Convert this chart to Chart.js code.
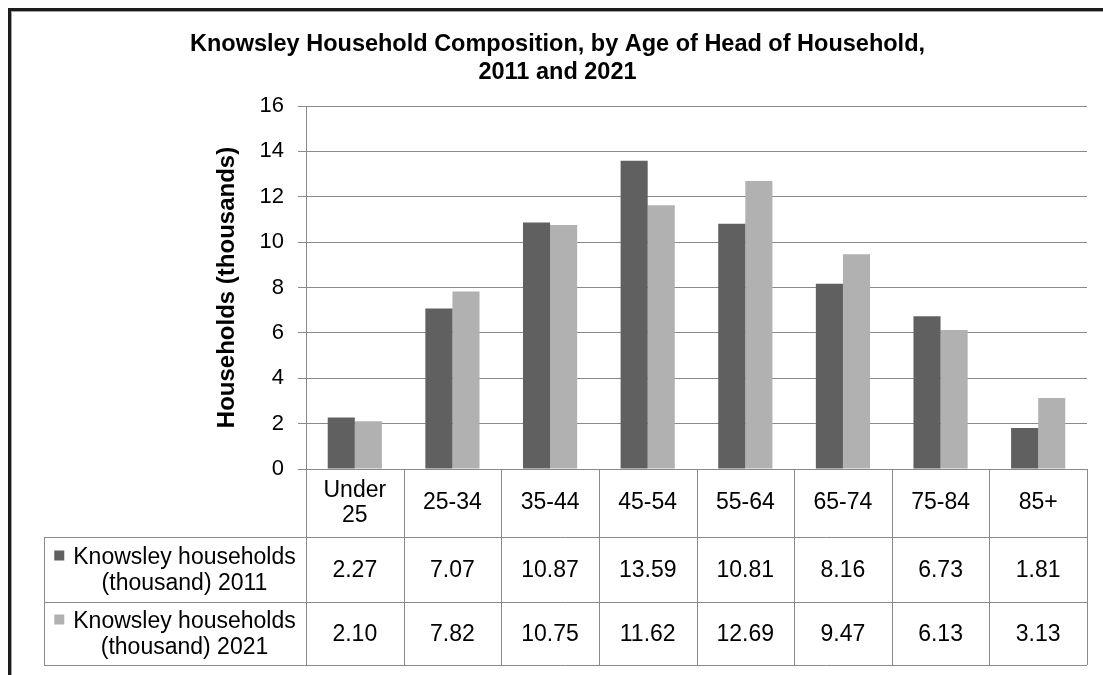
<!DOCTYPE html>
<html lang="en">
  <head>
    <meta charset="UTF-8" />
    <title>Knowsley Household Composition</title>
    <script src="https://cdn.jsdelivr.net/npm/chart.js"></script>
    <style>
      body {
        margin: 0;
        background: #ffffff;
        font-family: "Liberation Sans", Arial, sans-serif;
      }
      .wrap {
        position: relative;
        width: 1103px;
        height: 675px;
        overflow: hidden;
      }
      .frame {
        position: absolute;
        left: 8px;
        top: 8px;
        width: 1200px;
        height: 664px;
        border-left: 3px solid #1c1c1c;
        border-top: 3px solid #1c1c1c;
        box-shadow: inset 1px 1px 0 #a0a0a0;
        pointer-events: none;
      }
      canvas {
        position: absolute;
        left: 0;
        top: 0;
      }
    </style>
  </head>
  <body>
    <div class="wrap">
      <canvas id="chart" width="1103" height="675"></canvas>
      <div class="frame"></div>
    </div>

    <script>
      // data
      const categories = ["Under 25", "25-34", "35-44", "45-54", "55-64", "65-74", "75-84", "85+"];
      const households2011 = [2.27, 7.07, 10.87, 13.59, 10.81, 8.16, 6.73, 1.81];
      const households2021 = [2.10, 7.82, 10.75, 11.62, 12.69, 9.47, 6.13, 3.13];
      const seriesNames = [
        "Knowsley households (thousand) 2011",
        "Knowsley households (thousand) 2021",
      ];
      const yTicks = [0, 2, 4, 6, 8, 10, 12, 14, 16];

      const colors = ["#606060", "#b1b1b1"];
      const lineColor = "#8a8a8a";
      const font = '"Liberation Sans", Arial, sans-serif';

      // draws the data table below the plot, lined up with the x scale
      const dataTable = {
        id: "dataTable",
        afterDraw(chart) {
          const ctx = chart.ctx;
          const x = chart.scales.x;
          const area = chart.chartArea;
          const colW = x.width / categories.length;
          const rows = [area.bottom, area.bottom + 68, area.bottom + 133, area.bottom + 196];
          const legendLeft = 44;
          const tableRight = area.right;

          ctx.save();
          ctx.strokeStyle = lineColor;
          ctx.lineWidth = 1;
          ctx.beginPath();
          // horizontal lines
          ctx.moveTo(area.left, rows[0] + 0.5);
          ctx.lineTo(tableRight, rows[0] + 0.5);
          for (let r = 1; r < rows.length; r++) {
            ctx.moveTo(legendLeft, rows[r] + 0.5);
            ctx.lineTo(tableRight, rows[r] + 0.5);
          }
          // vertical lines
          ctx.moveTo(legendLeft + 0.5, rows[1]);
          ctx.lineTo(legendLeft + 0.5, rows[3]);
          for (let i = 0; i <= categories.length; i++) {
            const lx = Math.round(area.left + i * colW) + 0.5;
            ctx.moveTo(lx, rows[0]);
            ctx.lineTo(lx, rows[3]);
          }
          ctx.stroke();

          ctx.fillStyle = "#000";
          ctx.font = "23px " + font;
          ctx.textAlign = "center";
          ctx.textBaseline = "middle";

          // category row
          const catMid = (rows[0] + rows[1]) / 2;
          categories.forEach((c, i) => {
            const cx = x.getPixelForValue(i);
            const words = c.length > 6 && c.indexOf(" ") > 0 ? c.split(" ") : [c];
            if (words.length === 2) {
              ctx.fillText(words[0], cx, catMid - 12);
              ctx.fillText(words[1], cx, catMid + 13);
            } else {
              ctx.fillText(c, cx, catMid);
            }
          });

          // series rows
          const series = [households2011, households2021];
          series.forEach((vals, s) => {
            const mid = (rows[s + 1] + rows[s + 2]) / 2;
            vals.forEach((v, i) => {
              ctx.fillText(v.toFixed(2), x.getPixelForValue(i), mid + 1);
            });

            // legend cell: key square + two-line name
            const cut = seriesNames[s].indexOf(" (");
            const line1 = seriesNames[s].slice(0, cut);
            const line2 = seriesNames[s].slice(cut + 1);
            const w1 = ctx.measureText(line1).width;
            const keySize = 10, gap = 9;
            const cellMid = (legendLeft + area.left) / 2;
            const start = cellMid - (keySize + gap + w1) / 2;
            ctx.fillStyle = colors[s];
            ctx.fillRect(start, mid - 13 - 6, keySize, keySize);
            ctx.fillStyle = "#000";
            ctx.textAlign = "left";
            ctx.fillText(line1, start + keySize + gap, mid - 12);
            ctx.textAlign = "center";
            ctx.fillText(line2, start + keySize + gap + w1 / 2, mid + 14);
          });
          ctx.restore();
        },
      };

      new Chart(document.getElementById("chart"), {
        type: "bar",
        data: {
          labels: categories,
          datasets: [
            {
              label: seriesNames[0],
              data: households2011,
              backgroundColor: colors[0],
            },
            {
              label: seriesNames[1],
              data: households2021,
              backgroundColor: colors[1],
            },
          ],
        },
        options: {
          responsive: false,
          animation: false,
          categoryPercentage: 0.555,
          barPercentage: 1,
          layout: {
            padding: { left: 28, right: 16, top: 0, bottom: 206 },
          },
          plugins: {
            legend: { display: false },
            tooltip: { enabled: false },
            title: {
              display: true,
              text: [
                "Knowsley Household Composition, by Age of Head of Household,",
                "2011 and 2021",
              ],
              color: "#000",
              font: { family: font, size: 23.5, weight: "bold", lineHeight: "28px" },
              padding: { top: 31, bottom: 19 },
            },
          },
          scales: {
            x: {
              ticks: { display: false },
              grid: { display: false, drawTicks: false, tickLength: 0 },
              border: { display: true, color: lineColor },
            },
            y: {
              min: 0,
              max: 16,
              afterFit(scale) {
                scale.width = 278;
              },
              afterBuildTicks(scale) {
                scale.ticks = yTicks.map((v) => ({ value: v }));
              },
              ticks: {
                color: "#000",
                padding: 14,
                font: { family: font, size: 22 },
              },
              grid: { color: lineColor, tickLength: 8 },
              border: { color: lineColor },
              title: {
                display: true,
                text: "Households (thousands)",
                color: "#000",
                font: { family: font, size: 24, weight: "bold" },
                padding: { top: 185, bottom: 0 },
              },
            },
          },
        },
        plugins: [dataTable],
      });
    </script>
  </body>
</html>
